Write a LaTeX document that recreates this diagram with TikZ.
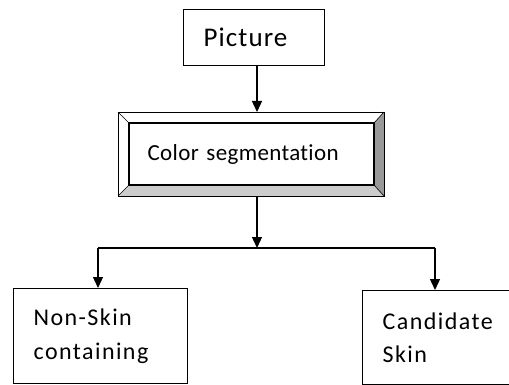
\documentclass[tikz,border=0pt]{standalone}
\usepackage{fontspec}
\setmainfont{Carlito}
\newfontfamily\titlefont[LetterSpace=4,Ligatures=NoCommon]{Carlito}
\newfontfamily\stepfont[LetterSpace=1.5,Ligatures=NoCommon]{Carlito}
\newfontfamily\leaffont[LetterSpace=6,Ligatures=NoCommon]{Carlito}
\usetikzlibrary{arrows.meta,calc}
\begin{document}
\begin{tikzpicture}[x=1pt,y=-1pt,
  box/.style={draw,line width=1.3pt,align=left,anchor=north west,inner ysep=0pt},
  link/.style={line width=1.3pt},
  flow/.style={line width=1.3pt,-{Triangle[length=11pt,width=10pt]}},
  bodytext/.style={font=\leaffont\fontsize{24}{33.5}\selectfont}]
\useasboundingbox (0,0) rectangle (509,385);

% input box
\node[box,minimum width=141pt,minimum height=56pt,text width=101pt,inner xsep=20pt,
  font=\titlefont\fontsize{27}{30}\selectfont] (pic) at (183,9) {Picture};

% bevelled process box: faces first, then outline and text
\fill[white] (118,112) -- (384,112) -- (374,123) -- (129,123) -- (129,185) -- (118,196) -- cycle;
\fill[black!20] (118,196) -- (384,196) -- (374,185) -- (129,185) -- cycle;
\fill[black!40] (384,112) -- (384,196) -- (374,185) -- (374,123) -- cycle;
\node[box,minimum width=266pt,minimum height=84pt,text width=208pt,inner xsep=29pt,
  font=\stepfont\fontsize{23}{28}\selectfont] (seg) at (118,112) {Color segmentation};
\draw[line width=1.1pt] (129,123) rectangle (374,185);
\draw[line width=0.6pt] (118,112) -- (129,123) (384,112) -- (374,123)
  (118,196) -- (129,185) (384,196) -- (374,185);

% output boxes
\node[box,bodytext,minimum width=174pt,minimum height=95pt,text width=134pt,inner xsep=20pt]
  (nonskin) at (13,288) {Non-Skin\\containing};
\node[box,bodytext,minimum width=160pt,minimum height=94pt,text width=120pt,inner xsep=20pt]
  (cand) at (362,290) {Candidate\\Skin};

% connectors
\coordinate (spine) at (257,0);
\coordinate (split) at (257,248);
\coordinate (splitL) at (98,248);
\coordinate (splitR) at (435,248);
\draw[flow] (pic.south -| spine) -- (seg.north -| spine);
\draw[flow] (seg.south -| spine) -- (split);
\draw[link] (splitL) -- (splitR);
\draw[flow] (splitL) -- (nonskin.north -| splitL);
\draw[flow] (splitR) -- (cand.north -| splitR);
\end{tikzpicture}
\end{document}
